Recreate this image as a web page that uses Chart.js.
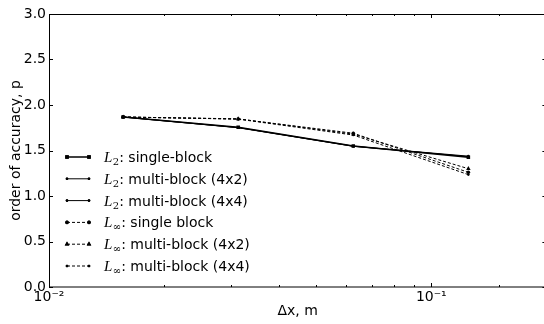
<!DOCTYPE html>
<html>
<head>
<meta charset="utf-8">
<script src="https://cdn.jsdelivr.net/npm/chart.js@4/dist/chart.umd.min.js"></script>
<style>
  html, body { margin: 0; padding: 0; background: white; overflow: hidden; }
  #wrap { width: 549px; height: 324px; }
</style>
</head>
<body>
<div id="wrap"><canvas id="chart" width="549" height="324"></canvas></div>
<script>
const dx = [1 / 64, 1 / 32, 1 / 16, 1 / 8];

const l2Single = [1.868, 1.755, 1.550, 1.425];
const l2Multi42 = [1.868, 1.752, 1.548, 1.432];
const l2Multi44 = [1.868, 1.750, 1.546, 1.438];
const lInfSingle = [1.868, 1.846, 1.690, 1.260];
const lInfMulti42 = [1.868, 1.848, 1.680, 1.300];
const lInfMulti44 = [1.868, 1.845, 1.670, 1.235];

const seriesNames = ["single-block", "multi-block (4x2)", "multi-block (4x4)", "single block", "multi-block (4x2)", "multi-block (4x4)"];
const seriesNorms = ["2", "2", "2", "∞", "∞", "∞"];

const yTicks = [0, 0.5, 1.0, 1.5, 2.0, 2.5, 3.0];

function pts(vals) {
    return vals.map((v, i) => ({ x: dx[i], y: v }));
}

function makeSet(vals, dash, style, radius, width) {
    return {
        data: pts(vals),
        borderColor: "black",
        backgroundColor: "black",
        borderWidth: width,
        borderDash: dash,
        pointStyle: style,
        pointRadius: radius,
        pointBorderWidth: 0,
        pointHoverRadius: radius,
        fill: false,
        tension: 0
    };
}

const datasets = [
    makeSet(l2Single, [], "rect", 2.5, 1.5),
    makeSet(l2Multi42, [], "circle", 1.3, 1),
    makeSet(l2Multi44, [], "circle", 1.3, 1),
    makeSet(lInfSingle, [3, 2], "circle", 1.8, 1),
    makeSet(lInfMulti42, [3, 2], "triangle", 2.6, 1),
    makeSet(lInfMulti44, [3, 2], "circle", 1.3, 1)
];

/* frame + inward ticks, matplotlib style */
const frameTicks = {
    id: "frameTicks",
    afterDraw(chart) {
        const ctx = chart.ctx;
        const a = chart.chartArea;
        const xs = chart.scales.x;
        const ys = chart.scales.y;
        ctx.save();
        ctx.strokeStyle = "black";
        ctx.lineWidth = 1;
        ctx.strokeRect(a.left + 0.5, a.top + 0.5, a.right - a.left, a.bottom - a.top - 0.5);
        ctx.beginPath();
        xs.ticks.forEach(t => {
            const lg = Math.log10(t.value);
            const major = Math.abs(lg - Math.round(lg)) < 1e-6;
            const len = major ? 4 : 2;
            const px = Math.round(xs.getPixelForValue(t.value)) + 0.5;
            ctx.moveTo(px, a.bottom);
            ctx.lineTo(px, a.bottom - len);
            ctx.moveTo(px, a.top);
            ctx.lineTo(px, a.top + len);
        });
        yTicks.forEach(v => {
            const py = Math.round(ys.getPixelForValue(v)) + 0.5;
            ctx.moveTo(a.left, py);
            ctx.lineTo(a.left + 4, py);
            ctx.moveTo(a.right, py);
            ctx.lineTo(a.right - 4, py);
        });
        ctx.stroke();
        ctx.restore();
    }
};

/* legend with mathtext-like labels */
const mathLegend = {
    id: "mathLegend",
    afterDraw(chart) {
        const ctx = chart.ctx;
        ctx.save();
        chart.data.datasets.forEach((ds, i) => {
            const y = 157 + i * 21.8;
            ctx.strokeStyle = "black";
            ctx.lineWidth = ds.borderWidth;
            ctx.setLineDash(ds.borderDash);
            ctx.beginPath();
            ctx.moveTo(67, y);
            ctx.lineTo(89, y);
            ctx.stroke();
            ctx.setLineDash([]);
            [67, 89].forEach(px => {
                Chart.helpers.drawPoint(ctx, {
                    pointStyle: ds.pointStyle,
                    radius: ds.pointRadius,
                    borderWidth: 0,
                    rotation: 0
                }, px, y);
                ctx.fillStyle = "black";
                ctx.fill();
            });
            ctx.fillStyle = "black";
            ctx.textBaseline = "alphabetic";
            ctx.font = "italic 15px 'Liberation Serif'";
            ctx.fillText("L", 104, y + 5);
            let x = 104 + ctx.measureText("L").width + 0.5;
            ctx.font = "10px 'DejaVu Serif'";
            ctx.fillText(seriesNorms[i], x, y + 8);
            x += ctx.measureText(seriesNorms[i]).width;
            ctx.font = "14px 'DejaVu Sans'";
            ctx.fillText(": " + seriesNames[i], x, y + 5);
        });
        ctx.restore();
    }
};

new Chart(document.getElementById("chart"), {
    type: "line",
    data: { datasets: datasets },
    options: {
        responsive: false,
        animation: false,
        events: [],
        layout: { padding: { top: 14, right: 0, left: 0, bottom: 0 } },
        plugins: {
            legend: { display: false },
            tooltip: { enabled: false }
        },
        scales: {
            x: {
                type: "logarithmic",
                min: 0.01,
                max: 0.2,
                afterFit: s => { s.height = 37; },
                grid: { display: false, drawTicks: false },
                border: { display: false },
                ticks: {
                    color: "black",
                    font: { family: "DejaVu Sans", size: 14 },
                    padding: 2,
                    autoSkip: false,
                    maxRotation: 0,
                    callback: v => {
                        if (Math.abs(v - 0.01) < 1e-9) return "10⁻²";
                        if (Math.abs(v - 0.1) < 1e-9) return "10⁻¹";
                        return "";
                    }
                },
                title: {
                    display: true,
                    text: "Δx, m",
                    color: "black",
                    font: { family: "DejaVu Sans", size: 14 },
                    padding: { top: 0, bottom: 4 }
                }
            },
            y: {
                min: 0,
                max: 3,
                afterFit: s => { s.width = 49; },
                afterBuildTicks: s => { s.ticks = yTicks.map(v => ({ value: v })); },
                grid: { display: false, drawTicks: false },
                border: { display: false },
                ticks: {
                    color: "black",
                    font: { family: "DejaVu Sans", size: 14 },
                    padding: 3,
                    callback: v => v.toFixed(1)
                },
                title: {
                    display: true,
                    text: "order of accuracy, p",
                    color: "black",
                    font: { family: "DejaVu Sans", size: 14 },
                    padding: { top: 8, bottom: 0 }
                }
            }
        }
    },
    plugins: [frameTicks, mathLegend]
});
</script>
</body>
</html>
